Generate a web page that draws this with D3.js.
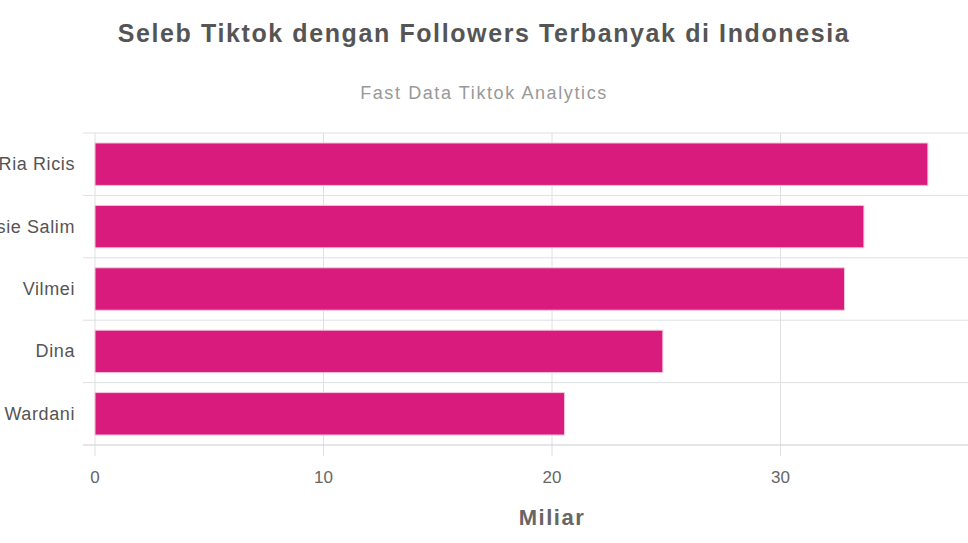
<!DOCTYPE html><html><head><meta charset="utf-8"><script src="https://cdn.jsdelivr.net/npm/d3@7"></script>
<style>body{margin:0;background:#fff;font-family:"Liberation Sans",Arial,sans-serif}</style></head><body><svg id="c" width="968" height="543"></svg>
<script>
const categories=["Ria Ricis","Sisie Salim","Vilmei","Dina ","Tasya Wardani"];
const values=[36.45,33.65,32.8,24.85,20.55];
const ticks=[0,10,20,30,40];
const svg=d3.select("#c");
const x=d3.scaleLinear().domain([0,40]).range([95,1009]);
const y=d3.scaleBand().domain(categories).range([133,445]).paddingInner(0.32).paddingOuter(0.16);
svg.append("text").attr("x",484).attr("y",42).attr("text-anchor","middle").attr("font-size",25).attr("letter-spacing",1.6).attr("font-weight","bold").attr("fill","#555").text("Seleb Tiktok dengan Followers Terbanyak di Indonesia");
svg.append("text").attr("x",484).attr("y",99).attr("text-anchor","middle").attr("font-size",18).attr("letter-spacing",1.6).attr("fill","#999").text("Fast Data Tiktok Analytics");
ticks.forEach(t=>svg.append("line").attr("x1",x(t)).attr("x2",x(t)).attr("y1",133).attr("y2",456).attr("stroke","#e0e0e0"));
for(let i=0;i<=categories.length;i++){const yy=133+i*(312/categories.length);svg.append("line").attr("x1",83).attr("x2",968).attr("y1",yy).attr("y2",yy).attr("stroke",i==categories.length?"#ccc":"#e0e0e0");}
svg.selectAll("rect.b").data(values).enter().append("rect").attr("x",x(0)).attr("y",(d,i)=>y(categories[i])).attr("width",d=>x(d)-x(0)).attr("height",y.bandwidth()).attr("fill","#d81b7d").attr("stroke","#f5c6dd");
categories.forEach(c=>svg.append("text").attr("x",75).attr("y",y(c)+y.bandwidth()/2+6).attr("text-anchor","end").attr("font-size",18).attr("letter-spacing",0.6).attr("fill","#555").text(c));
ticks.filter(t=>x(t)<960).forEach(t=>svg.append("text").attr("x",x(t)).attr("y",483).attr("text-anchor","middle").attr("font-size",17).attr("fill","#666").text(t));
svg.append("text").attr("x",552).attr("y",525).attr("text-anchor","middle").attr("font-size",22).attr("letter-spacing",1.5).attr("font-weight","bold").attr("fill","#666").text("Miliar");
</script></body></html>
